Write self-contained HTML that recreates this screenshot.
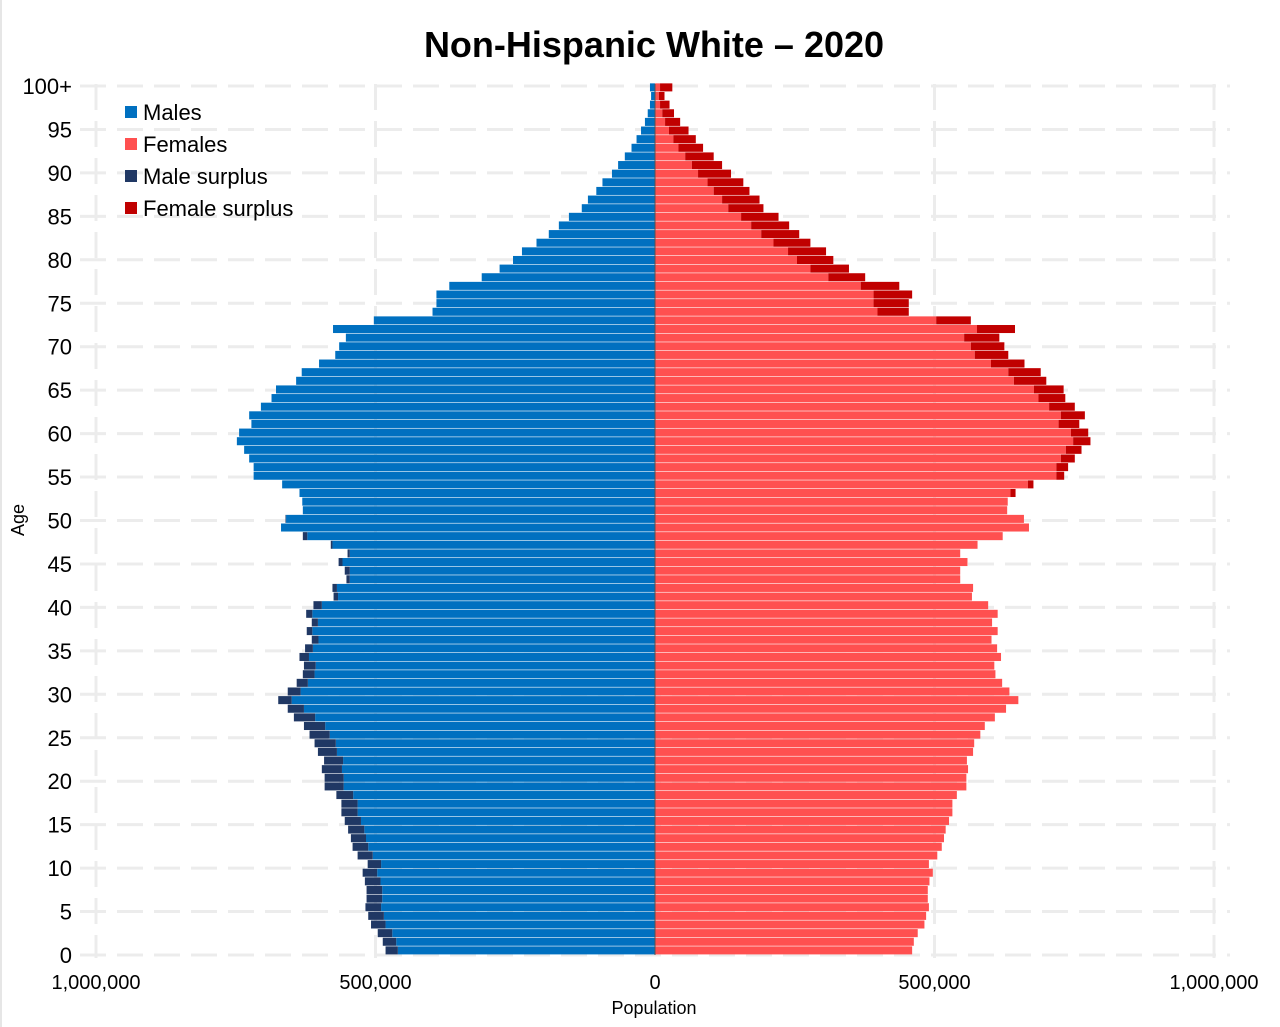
<!DOCTYPE html>
<html><head><meta charset="utf-8"><title>Non-Hispanic White – 2020</title>
<style>
html,body{margin:0;padding:0;background:#fff;}
svg{display:block;font-family:"Liberation Sans",Arial,sans-serif;}
</style></head>
<body>
<svg id="chart" width="1280" height="1027" viewBox="0 0 1280 1027" xmlns="http://www.w3.org/2000/svg">
  <rect x="0" y="0" width="1280" height="1027" fill="#fff"/>
  <line x1="1" y1="0" x2="1" y2="1027" stroke="#e6e6e6" stroke-width="2"/>
  <text x="654" y="57" text-anchor="middle" font-size="36" font-weight="bold" fill="#000">Non-Hispanic White – 2020</text>
  <g id="grid"></g>
  <g id="bars"></g>
  <line x1="655" y1="84" x2="655" y2="955" stroke="#555" stroke-width="1"/>
  <g id="yticks"></g>
  <g id="xticks"></g>
  <text x="654" y="1014" text-anchor="middle" font-size="18" fill="#000">Population</text>
  <text transform="translate(24,520) rotate(-90)" text-anchor="middle" font-size="18" fill="#000">Age</text>
  <g>
    <g>
      <rect x="125" y="106" width="12" height="12" fill="#0070c0"/>
      <text x="143" y="120" font-size="22">Males</text>
    </g>
    <g>
      <rect x="125" y="138" width="12" height="12" fill="#ff5050"/>
      <text x="143" y="152" font-size="22">Females</text>
    </g>
    <g>
      <rect x="125" y="170" width="12" height="12" fill="#203864"/>
      <text x="143" y="184" font-size="22">Male surplus</text>
    </g>
    <g>
      <rect x="125" y="202" width="12" height="12" fill="#c00000"/>
      <text x="143" y="216" font-size="22">Female surplus</text>
    </g>
  </g>
</svg>
<script>
// Population in thousands, ages 0..100+
const males = [482,487,496,508,513,518,516,516,519,523,514,532,541,544,549,555,561,561,570,591,591,596,592,603,609,618,628,646,657,674,657,641,630,628,636,626,614,623,614,624,611,575,577,552,555,566,550,580,630,669,661,630,631,636,667,718,718,726,735,748,744,722,726,705,686,678,642,632,601,572,565,553,576,503,398,391,391,368,310,278,254,238,212,190,172,154,131,120,105,94,77,66,54,42,33,25,18,13,9,7,9];
const females = [460,463,470,482,485,490,488,488,491,497,490,505,513,517,520,526,532,532,540,557,557,560,558,569,571,582,590,608,628,650,634,621,609,607,619,612,602,613,603,613,596,567,569,546,546,559,546,577,622,669,660,630,631,645,677,732,739,751,763,779,775,759,769,751,734,731,700,690,661,632,625,616,644,565,454,454,460,437,376,347,319,306,278,258,240,221,194,187,169,158,136,120,105,86,73,60,45,34,26,17,31];
const xTickValues = [-2000000,-1500000,-1000000,-500000,0,500000,1000000,1500000,2000000];
const xTickLabels = ["2,000,000","1,500,000","1,000,000","500,000","0","500,000","1,000,000","1,500,000","2,000,000"];
const yTickAges = [0,5,10,15,20,25,30,35,40,45,50,55,60,65,70,75,80,85,90,95,100];
const yTickLabels = ["0","5","10","15","20","25","30","35","40","45","50","55","60","65","70","75","80","85","90","95","100+"];

const NS = "http://www.w3.org/2000/svg";
const CX = 655, PX_PER = 279.5 / 500000;
function xScale(v){ return CX + v * PX_PER; }
const BAR_BOTTOM = 955, PITCH = 8.63;
function barTop(age){ return BAR_BOTTOM - (age + 1) * PITCH; }
function tickY(age){ return 955 - age * 8.69; }
function mk(tag, attrs, parent){
  const el = document.createElementNS(NS, tag);
  for (const k in attrs) el.setAttribute(k, attrs[k]);
  parent.appendChild(el);
  return el;
}

const grid = document.getElementById('grid');
for (let i = 0; i < yTickAges.length; i++) {
  const y = tickY(yTickAges[i]);
  const l = mk('line', {x1: 80, x2: 1230, y1: y, y2: y, stroke: '#ececec', 'stroke-width': 3, 'stroke-dasharray': '26,11'}, grid);
  
  
}
for (let i = 0; i < xTickValues.length; i++) {
  if (xTickValues[i] === 0) continue;
  const x = xScale(xTickValues[i]);
  const l = mk('line', {x1: x, x2: x, y1: 84, y2: 958, stroke: '#ececec', 'stroke-width': 3, 'stroke-dasharray': '26,11'}, grid);
  
  
}

const bars = document.getElementById('bars');
for (let a = 0; a < males.length; a++) {
  const m = males[a] * 1000, f = females[a] * 1000, mn = Math.min(m, f);
  const y = barTop(a), h = PITCH - 0.6;
  const b1 = mk('rect', {x: xScale(-mn), y: y, width: xScale(0) - xScale(-mn), height: h, fill: '#0070c0'}, bars);
  
  
  const b2 = mk('rect', {x: xScale(0), y: y, width: xScale(mn) - xScale(0), height: h, fill: '#ff5050'}, bars);
  
  
  if (m > f) {
    const s = mk('rect', {x: xScale(-m), y: y, width: xScale(-f) - xScale(-m), height: h, fill: '#203864'}, bars);
    
    
  } else if (f > m) {
    const s = mk('rect', {x: xScale(m), y: y, width: xScale(f) - xScale(m), height: h, fill: '#c00000'}, bars);
    
    
  }
}

const yt = document.getElementById('yticks');
for (let i = 0; i < yTickAges.length; i++) {
  const t = mk('text', {x: 72, y: tickY(yTickAges[i]) + 8, 'text-anchor': 'end', 'font-size': 22, fill: '#000'}, yt);
  t.textContent = yTickLabels[i];
  
  
}
const xt = document.getElementById('xticks');
for (let i = 0; i < xTickValues.length; i++) {
  const t = mk('text', {x: xScale(xTickValues[i]), y: 989, 'text-anchor': 'middle', 'font-size': 20, fill: '#000'}, xt);
  t.textContent = xTickLabels[i];
  
  
}
</script>
</body></html>
